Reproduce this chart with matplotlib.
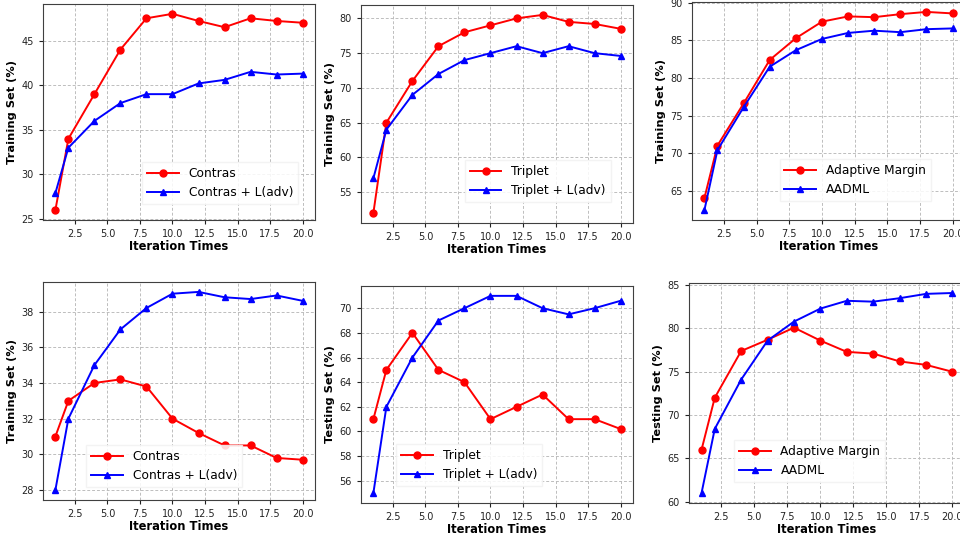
import numpy as np
import matplotlib
matplotlib.use("Agg")
import matplotlib.pyplot as plt

# iteration times
iters = [1, 2, 4, 6, 8, 10, 12, 14, 16, 18, 20]

# training set (top row)
contras_train = [26.0, 34.0, 39.0, 44.0, 47.5, 48.0, 47.2, 46.5, 47.5, 47.2, 47.0]
contras_adv_train = [27.9, 33.0, 36.0, 38.0, 39.0, 39.0, 40.2, 40.6, 41.5, 41.2, 41.3]
triplet_train = [52.0, 65.0, 71.0, 76.0, 78.0, 79.0, 80.0, 80.5, 79.5, 79.2, 78.5]
triplet_adv_train = [57.0, 64.0, 69.0, 72.0, 74.0, 75.0, 76.0, 75.0, 76.0, 75.0, 74.6]
margin_train = [64.0, 71.0, 76.6, 82.4, 85.3, 87.5, 88.2, 88.1, 88.5, 88.8, 88.6]
aadml_train = [62.4, 70.4, 76.1, 81.5, 83.7, 85.2, 86.0, 86.3, 86.1, 86.5, 86.6]

# testing set (bottom row)
contras_test = [31.0, 33.0, 34.0, 34.2, 33.8, 32.0, 31.2, 30.5, 30.5, 29.8, 29.7]
contras_adv_test = [28.0, 32.0, 35.0, 37.0, 38.2, 39.0, 39.1, 38.8, 38.7, 38.9, 38.6]
triplet_test = [61.0, 65.0, 68.0, 65.0, 64.0, 61.0, 62.0, 63.0, 61.0, 61.0, 60.2]
triplet_adv_test = [55.0, 62.0, 66.0, 69.0, 70.0, 71.0, 71.0, 70.0, 69.5, 70.0, 70.6]
margin_test = [66.0, 72.0, 77.4, 78.7, 80.1, 78.6, 77.3, 77.1, 76.2, 75.8, 75.0]
aadml_test = [61.0, 68.4, 74.1, 78.6, 80.8, 82.3, 83.2, 83.1, 83.5, 84.0, 84.1]

W, H = 960, 538
fig = plt.figure(figsize=(W / 100, H / 100), dpi=100)

# panel: (left, right, top, bottom) in pixels, series, labels, ylabel, yticks, legend anchor
panels = [
    ((43, 315, 4, 220), contras_train, contras_adv_train, "Contras", "Contras + L(adv)",
     "Training Set (%)", np.arange(25, 50, 5), "lower right", (0.96, 0.046)),
    ((361, 633, 5, 223), triplet_train, triplet_adv_train, "Triplet", "Triplet + L(adv)",
     "Training Set (%)", np.arange(55, 85, 5), "lower right", (0.94, 0.069)),
    ((692, 965, 2, 220), margin_train, aadml_train, "Adaptive Margin", "AADML",
     "Training Set (%)", np.arange(65, 95, 5), "lower right", (0.897, 0.06)),
    ((43, 315, 282, 500), contras_test, contras_adv_test, "Contras", "Contras + L(adv)",
     "Training Set (%)", np.arange(28, 40, 2), "lower left", (0.136, 0.032)),
    ((361, 633, 286, 503), triplet_test, triplet_adv_test, "Triplet", "Triplet + L(adv)",
     "Testing Set (%)", np.arange(56, 72, 2), "lower left", (0.107, 0.05)),
    ((689, 965, 283, 503), margin_test, aadml_test, "Adaptive Margin", "AADML",
     "Testing Set (%)", np.arange(60, 90, 5), "lower left", (0.141, 0.068)),
]

for (l, r, t, b), red, blue, lab_r, lab_b, ylab, yt, loc, anchor in panels:
    ax = fig.add_axes([l / W, 1 - b / H, (r - l) / W, (b - t) / H])
    ax.plot(iters, red, color='red', marker='o', markersize=5, linewidth=1.4, label=lab_r)
    ax.plot(iters, blue, color='blue', marker='^', markersize=5, linewidth=1.4, label=lab_b)
    ax.set_xlim(0.05, 20.95)
    ax.set_xticks([2.5, 5.0, 7.5, 10.0, 12.5, 15.0, 17.5, 20.0])
    ax.set_yticks(yt)
    ax.grid(True, linestyle=(0, (3, 2)), color='#bdbdbd', linewidth=0.7)
    ax.tick_params(labelsize=7, length=3, colors='#222222')
    for sp in ax.spines.values():
        sp.set_color('#404040')
    ax.set_xlabel("Iteration Times", fontsize=8.3, fontweight='bold', labelpad=1)
    ax.set_ylabel(ylab, fontsize=8.2, fontweight='bold', labelpad=3)
    ax.legend(loc=loc, bbox_to_anchor=anchor, fontsize=8.8, handlelength=2.6,
              framealpha=0.85, edgecolor='#f2f2f2', fancybox=False, borderpad=0.4)

fig.savefig("out.png", dpi=100)
